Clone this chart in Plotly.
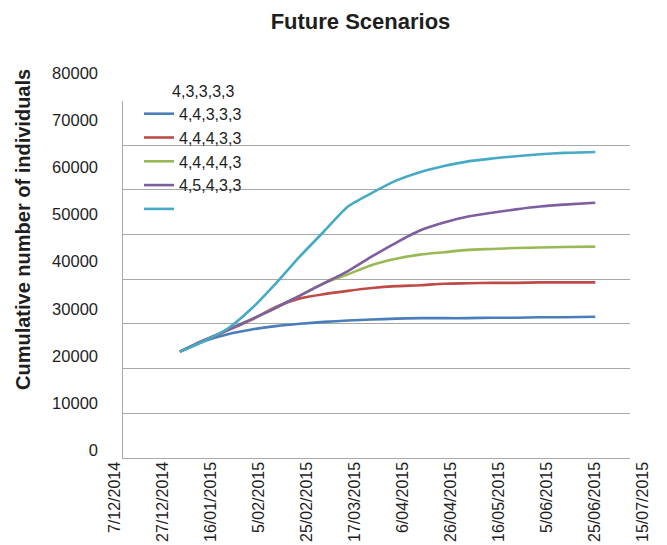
import plotly.graph_objects as go

W, H = 667, 545

# Sampled dates of the simulated cumulative counts
dates = [
    "2015-01-03", "2015-01-13", "2015-01-23", "2015-02-02", "2015-02-12",
    "2015-02-22", "2015-03-04", "2015-03-14", "2015-03-24", "2015-04-03",
    "2015-04-13", "2015-04-23", "2015-05-03", "2015-05-13", "2015-05-23",
    "2015-06-02", "2015-06-12", "2015-06-25",
]

blue_vals = [20900, 23100, 24600, 25600, 26300, 26800, 27200, 27500, 27700,
             27900, 28000, 28000, 28000, 28100, 28100, 28200, 28200, 28300]
red_vals = [20900, 23200, 25400, 27700, 30400, 32200, 33100, 33800, 34400,
            34800, 35000, 35300, 35400, 35500, 35500, 35600, 35600, 35600]
green_vals = [20900, 23300, 25500, 27800, 30200, 32800, 35400, 37300, 39300,
              40600, 41500, 42000, 42500, 42700, 42900, 43000, 43100, 43200]
purple_vals = [20900, 23300, 25500, 27800, 30200, 32800, 35400, 38000, 41100,
               44000, 46600, 48300, 49600, 50400, 51100, 51700, 52100, 52500]
cyan_vals = [20900, 23100, 25800, 30100, 35400, 41100, 46400, 51700, 54600,
             57200, 59000, 60300, 61300, 61900, 62400, 62800, 63100, 63300]

legend_heading = "4,3,3,3,3"
series_names = ["4,4,3,3,3", "4,4,4,3,3", "4,4,4,4,3", "4,5,4,3,3", ""]
series_colors = ["#4A7EBB", "#BE4B48", "#98B954", "#7D5FA0", "#46AAC5"]
series_values = [blue_vals, red_vals, green_vals, purple_vals, cyan_vals]

x_tickvals = [
    "2014-12-07", "2014-12-27", "2015-01-16", "2015-02-05", "2015-02-25",
    "2015-03-17", "2015-04-06", "2015-04-26", "2015-05-16", "2015-06-05",
    "2015-06-25", "2015-07-15",
]
x_ticktext = [
    "7/12/2014", "27/12/2014", "16/01/2015", "5/02/2015", "25/02/2015",
    "17/03/2015", "6/04/2015", "26/04/2015", "16/05/2015", "5/06/2015",
    "25/06/2015", "15/07/2015",
]
y_tickvals = [0, 10000, 20000, 30000, 40000, 50000, 60000, 70000, 80000]
y_ticktext = [str(v) for v in y_tickvals]

FONT = "Liberation Sans, Arial, Helvetica, sans-serif"
TXT = "#1e1e1e"
GRID = "#a8a8a8"


def px_x(p):
    return p / W


def px_y(p):
    return 1 - p / H


fig = go.Figure()

# frame subplot: gridlines and the left / bottom axis lines
fig.add_trace(go.Scatter(x=[], y=[], xaxis="x", yaxis="y",
                         showlegend=False, hoverinfo="skip"))

for name, color, vals in zip(series_names, series_colors, series_values):
    fig.add_trace(go.Scatter(
        x=dates, y=vals, name=name, mode="lines",
        line=dict(color=color, width=2.6, shape="spline", smoothing=0.6),
        xaxis="x2", yaxis="y2",
    ))

fig.update_layout(
    width=W, height=H,
    margin=dict(l=0, r=0, t=0, b=0, autoexpand=False),
    paper_bgcolor="white", plot_bgcolor="rgba(0,0,0,0)",
    font=dict(family=FONT, color=TXT, size=16),
    title=dict(text="<b>Future Scenarios</b>", x=px_x(360.5), xanchor="center",
               y=px_y(21), yanchor="middle", yref="container",
               font=dict(size=22, family=FONT, color=TXT)),
    xaxis=dict(domain=[px_x(123), px_x(630)], range=[0, 1], anchor="y",
               showgrid=False, zeroline=False, showticklabels=False,
               ticks="", showline=True, linecolor=GRID, linewidth=1.3),
    yaxis=dict(domain=[px_y(457.7), px_y(100.7)], range=[0, 80000],
               anchor="x", dtick=10000, tick0=0, showgrid=True,
               gridcolor=GRID, gridwidth=1.2, zeroline=False,
               showticklabels=False, ticks="", showline=True,
               linecolor=GRID, linewidth=1.3),
    xaxis2=dict(domain=[px_x(115), px_x(643.3)], type="date",
                range=["2014-12-07", "2015-07-15"], anchor="free",
                position=px_y(457.7), tickvals=x_tickvals,
                ticktext=x_ticktext, tickangle=-90, ticks="",
                showgrid=False, zeroline=False, showline=False,
                tickfont=dict(size=16, family=FONT, color=TXT)),
    yaxis2=dict(domain=[px_y(450), px_y(73.3)], range=[0, 80000],
                anchor="free", position=px_x(98), tickvals=y_tickvals,
                ticktext=y_ticktext, ticks="", showgrid=False,
                zeroline=False, showline=False,
                tickfont=dict(size=16.5, family=FONT, color=TXT)),
    showlegend=True,
    legend=dict(x=px_x(139), y=px_y(76), xanchor="left", yanchor="top",
                bgcolor="rgba(0,0,0,0)", borderwidth=0,
                font=dict(size=16, family=FONT, color=TXT),
                title=dict(text="&nbsp;" * 7 + legend_heading,
                           font=dict(size=16, family=FONT, color=TXT)),
                tracegroupgap=0),
    annotations=[dict(text="<b>Cumulative number of individuals</b>",
                      x=px_x(23.5), y=px_y(229.5), xref="paper",
                      yref="paper", textangle=-90, showarrow=False,
                      xanchor="center", yanchor="middle",
                      font=dict(size=20, family=FONT, color=TXT))],
)

fig.write_html(
    "out.html",
    post_script="document.body.style.margin='0';"
                "document.body.style.overflow='hidden';",
)
